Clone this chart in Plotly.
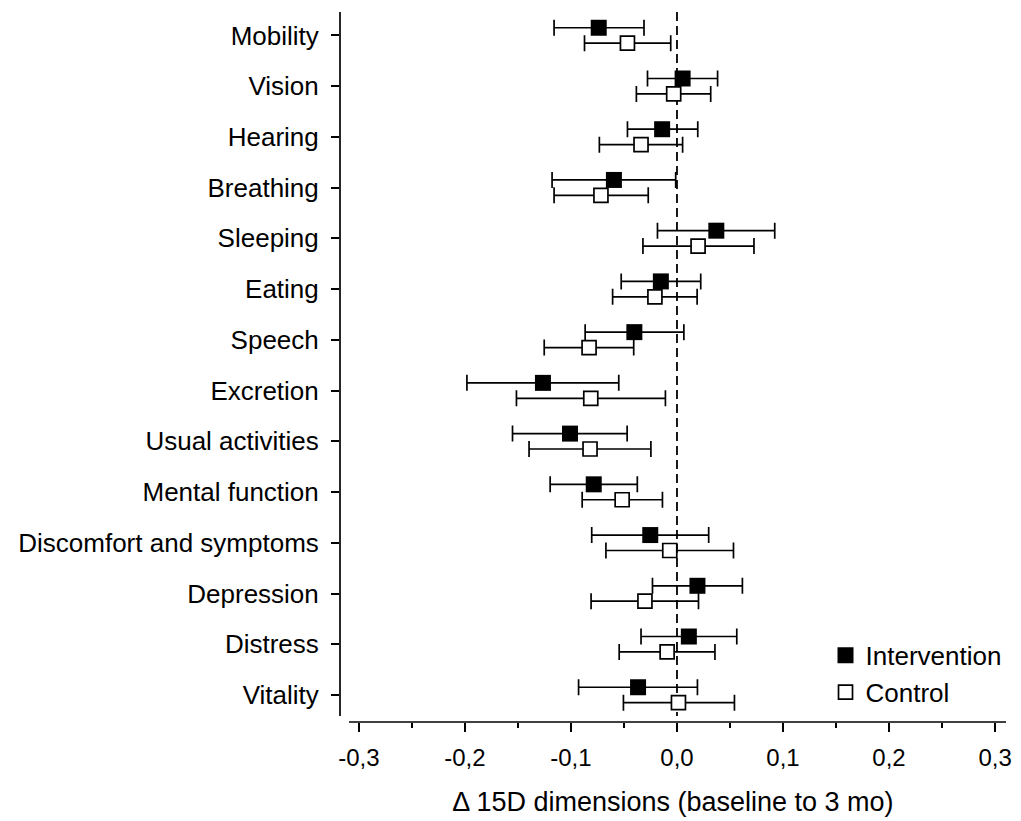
import plotly.graph_objects as go

categories = ["Mobility", "Vision", "Hearing", "Breathing", "Sleeping", "Eating", "Speech",
              "Excretion", "Usual activities", "Mental function", "Discomfort and symptoms",
              "Depression", "Distress", "Vitality"]

int_mean = [-0.0738, 0.0053, -0.0140, -0.0595, 0.0371, -0.0152, -0.0402,
            -0.1264, -0.1009, -0.0785, -0.0252, 0.0193, 0.0112, -0.0367]
int_low = [-0.1159, -0.0278, -0.0467, -0.1178, -0.0184, -0.0526, -0.0866,
           -0.1981, -0.1551, -0.1196, -0.0804, -0.0231, -0.0339, -0.0928]
int_high = [-0.0311, 0.0383, 0.0196, -0.0012, 0.0922, 0.0224, 0.0065,
            -0.0549, -0.0470, -0.0374, 0.0299, 0.0617, 0.0564, 0.0193]

ctl_mean = [-0.0467, -0.0031, -0.0339, -0.0717, 0.0199, -0.0208, -0.0829,
            -0.0813, -0.0820, -0.0517, -0.0068, -0.0302, -0.0093, 0.0014]
ctl_low = [-0.0872, -0.0383, -0.0732, -0.1159, -0.0321, -0.0607, -0.1252,
           -0.1514, -0.1395, -0.0894, -0.0670, -0.0810, -0.0545, -0.0505]
ctl_high = [-0.0059, 0.0318, 0.0053, -0.0271, 0.0726, 0.0190, -0.0408,
            -0.0109, -0.0246, -0.0137, 0.0533, 0.0203, 0.0358, 0.0542]

x_tickvals = [-0.3, -0.2, -0.1, 0.0, 0.1, 0.2, 0.3]
x_ticktext = ["-0,3", "-0,2", "-0,1", "0,0", "0,1", "0,2", "0,3"]

FONT = "Liberation Sans, Arial, sans-serif"
n = len(categories)
rows = list(range(n))
off = 0.152

def err(mean, low, high):
    plus = [h - m for m, h in zip(mean, high)]
    minus = [m - l for m, l in zip(mean, low)]
    return plus, minus

ip, im = err(int_mean, int_low, int_high)
cp, cm = err(ctl_mean, ctl_low, ctl_high)

fig = go.Figure()
fig.add_trace(go.Scatter(
    x=ctl_mean, y=[r + off for r in rows], mode="markers", name="Control",
    legendgroup="c", legendrank=2,
    marker=dict(symbol="square", size=14, color="white", line=dict(color="black", width=1.7)),
    error_x=dict(type="data", symmetric=False, array=cp, arrayminus=cm,
                 color="black", thickness=1.7, width=8),
))
fig.add_trace(go.Scatter(
    x=int_mean, y=[r - off for r in rows], mode="markers", name="Intervention",
    legendgroup="i", legendrank=1,
    marker=dict(symbol="square", size=16, color="black", line=dict(color="black", width=0)),
    error_x=dict(type="data", symmetric=False, array=ip, arrayminus=im,
                 color="black", thickness=1.7, width=8),
))

y_top = -0.4626
y_bot = 13.533
# dashed zero line
fig.add_shape(type="line", xref="x", yref="y", x0=0, x1=0, y0=y_top, y1=13.415,
              line=dict(color="black", width=1.8, dash="9px,5px"), layer="below")
# y axis line
fig.add_shape(type="line", xref="paper", yref="y", x0=0, x1=0, y0=y_top, y1=13.415,
              line=dict(color="black", width=1.7))
# x axis line
fig.add_shape(type="line", xref="x", yref="paper", x0=-0.3093, x1=0.3103, y0=0, y1=0,
              line=dict(color="black", width=1.7))

fig.update_layout(
    width=1021, height=821,
    margin=dict(l=340, r=9, t=12, b=98),
    paper_bgcolor="white", plot_bgcolor="white",
    font=dict(family=FONT, color="black"),
    showlegend=True,
    legend=dict(x=0.729, y=0.127, xanchor="left", yanchor="top",
                font=dict(size=26, family=FONT), bgcolor="rgba(0,0,0,0)",
                tracegroupgap=0, itemwidth=30),
    xaxis=dict(range=[-0.3178, 0.3103], showgrid=False, zeroline=False, showline=False,
               tickvals=x_tickvals, ticktext=x_ticktext, ticks="outside", ticklen=9,
               tickwidth=1.7, tickcolor="black", tickfont=dict(size=24, family=FONT),
               ticklabelstandoff=5,
               minor=dict(dtick=0.05, tick0=0, ticks="outside", ticklen=5, tickwidth=1.7,
                          tickcolor="black", showgrid=False),
               title=dict(text="\u0394 15D dimensions (baseline to 3 mo)",
                          font=dict(size=27, family=FONT), standoff=22)),
    yaxis=dict(range=[y_bot, y_top], showgrid=False, zeroline=False, showline=False,
               tickvals=rows, ticktext=categories, ticks="outside", ticklen=8,
               tickwidth=1.7, tickcolor="black", tickfont=dict(size=26, family=FONT),
               ticklabelstandoff=7),
)

fig.write_html("out.html", config={"displayModeBar": False},
               post_script="document.body.style.margin='0';document.body.style.overflow='hidden';")
